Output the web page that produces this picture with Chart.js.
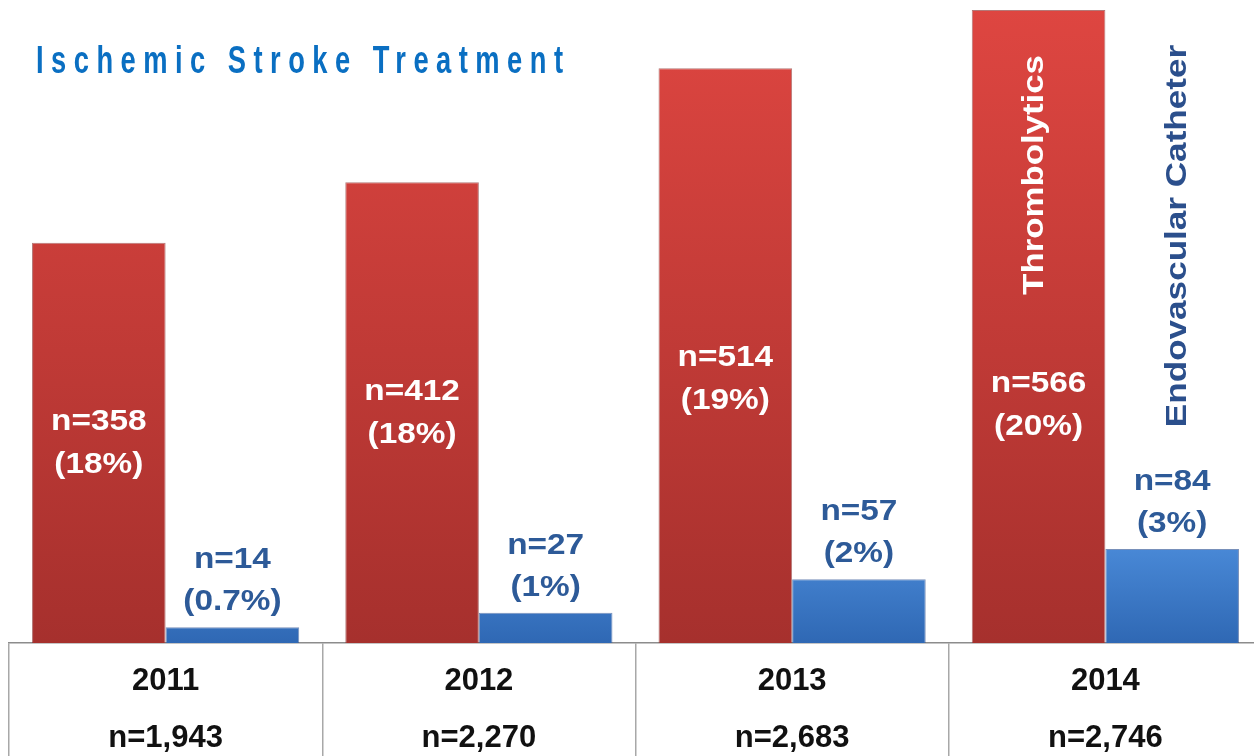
<!DOCTYPE html>
<html>
<head>
<meta charset="utf-8">
<script src="https://cdn.jsdelivr.net/npm/chart.js@4"></script>
<style>
  html, body { margin: 0; padding: 0; background: #fff; overflow: hidden; }
  #wrap { position: relative; width: 1262px; height: 756px; }
</style>
</head>
<body>
<div id="wrap"><canvas id="strokeChart"></canvas></div>
<script>
const years = ['2011', '2012', '2013', '2014'];
const totals = ['n=1,943', 'n=2,270', 'n=2,683', 'n=2,746'];
const thrombolytics = [358, 412, 514, 566];
const thrombolyticsPct = ['18%', '18%', '19%', '20%'];
const endovascular = [14, 27, 57, 84];
const endovascularPct = ['0.7%', '1%', '2%', '3%'];
const seriesNames = ['Thrombolytics', 'Endovascular Catheter'];

const FONT = '"Liberation Sans", Arial, sans-serif';

// where the red labels sit inside each bar (fraction from top to base)
const redLabelPos = [0.5, 0.5, 0.54, 0.624];

function drawText(ctx, text, x, y, font, color, sx) {
    ctx.save();
    ctx.translate(x, y);
    ctx.scale(sx, 1);
    ctx.font = font;
    ctx.fillStyle = color;
    ctx.textAlign = 'center';
    ctx.textBaseline = 'middle';
    ctx.fillText(text, 0, 0);
    ctx.restore();
}

// vertical gradient covering the lowest `span` pixels of the plot (whole plot if null)
function barGradient(top, bottom, span) {
    return (context) => {
        const chart = context.chart;
        const area = chart.chartArea;
        if (!area) return bottom;
        const y0 = span ? area.bottom - span : area.top;
        const g = chart.ctx.createLinearGradient(0, y0, 0, area.bottom);
        g.addColorStop(0, top);
        g.addColorStop(1, bottom);
        return g;
    };
}

const labelPlugin = {
    id: 'labels',
    afterDatasetsDraw(chart) {
        const ctx = chart.ctx;
        const red = chart.getDatasetMeta(0).data;
        const blue = chart.getDatasetMeta(1).data;
        const f = 'bold 29px ' + FONT;

        red.forEach((bar, i) => {
            const c = bar.y + redLabelPos[i] * (bar.base - bar.y);
            drawText(ctx, 'n=' + thrombolytics[i], bar.x, c - 21, f, '#ffffff', 1.15);
            drawText(ctx, '(' + thrombolyticsPct[i] + ')', bar.x, c + 22, f, '#ffffff', 1.15);
        });
        blue.forEach((bar, i) => {
            drawText(ctx, 'n=' + endovascular[i], bar.x, bar.y - 67, f, '#2d5a98', 1.15);
            drawText(ctx, '(' + endovascularPct[i] + ')', bar.x, bar.y - 25, f, '#2d5a98', 1.15);
        });

        // series names written vertically next to the last pair of bars
        const last = red.length - 1;
        const rf = 'bold 30px ' + FONT;
        ctx.save();
        ctx.translate(red[last].x - 4, 175);
        ctx.rotate(-Math.PI / 2);
        drawText(ctx, seriesNames[0], 0, 0, rf, '#ffffff', 1.16);
        ctx.restore();
        ctx.save();
        ctx.translate(blue[last].x + 6, 236);
        ctx.rotate(-Math.PI / 2);
        drawText(ctx, seriesNames[1], 0, 0, rf, '#2b4f8c', 1.17);
        ctx.restore();

        // title
        ctx.save();
        ctx.font = 'bold 39px ' + FONT;
        const sx = 0.7;
        const title = 'Ischemic Stroke Treatment';
        ctx.letterSpacing = '0px';
        const w0 = ctx.measureText(title).width;
        const ls = (527 / sx - w0) / (title.length - 1);
        ctx.letterSpacing = ls + 'px';
        ctx.translate(36, 62);
        ctx.scale(sx, 1);
        ctx.fillStyle = '#0a6fc2';
        ctx.textAlign = 'left';
        ctx.textBaseline = 'middle';
        ctx.fillText(title, 0, 0);
        ctx.restore();
    }
};

new Chart(document.getElementById('strokeChart'), {
    type: 'bar',
    data: {
        labels: years.map((y, i) => [y, totals[i]]),
        datasets: [{
            label: seriesNames[0],
            data: thrombolytics,
            backgroundColor: barGradient('#df4641', '#a6302d', null),
            borderColor: 'rgba(130,30,28,0.6)',
            borderWidth: 1,
            categoryPercentage: 0.853,
            barPercentage: 1.0
        }, {
            label: seriesNames[1],
            data: endovascular,
            backgroundColor: barGradient('#4a8ad8', '#2f68b4', 100),
            borderColor: 'rgba(30,70,140,0.6)',
            borderWidth: 1,
            categoryPercentage: 0.853,
            barPercentage: 1.0
        }]
    },
    options: {
        responsive: true,
        maintainAspectRatio: false,
        animation: false,
        layout: { padding: { left: 9, right: 0, top: 0, bottom: 0 } },
        plugins: {
            legend: { display: false },
            tooltip: { enabled: false }
        },
        scales: {
            y: { display: false, min: 0, max: 575 },
            x: {
                grid: {
                    offset: true,
                    drawOnChartArea: false,
                    drawTicks: true,
                    tickLength: 113,
                    color: '#a8a8a8',
                    lineWidth: 1.5
                },
                border: { display: true, color: '#8c8c8c', width: 1.5 },
                ticks: {
                    color: '#111',
                    padding: -103,
                    maxRotation: 0,
                    font: { family: FONT, size: 31, weight: 'bold', lineHeight: 1.84 }
                },
                afterFit(scale) { scale.height = 113; }
            }
        }
    },
    plugins: [labelPlugin]
});
</script>
</body>
</html>
